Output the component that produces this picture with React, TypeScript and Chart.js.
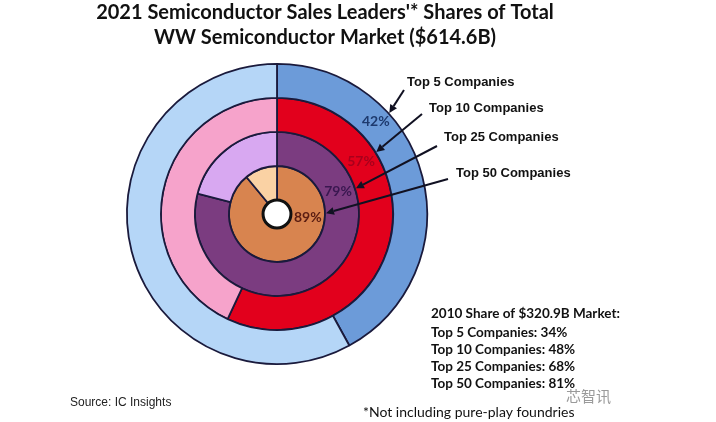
import React, { useEffect, useRef } from "react";
import { Chart, registerables } from "chart.js";

Chart.register(...registerables);

const titleLines = ["2021 Semiconductor Sales Leaders'* Shares of Total", "WW Semiconductor Market ($614.6B)"];
const companies = ["Top 5 Companies", "Top 10 Companies", "Top 25 Companies", "Top 50 Companies"];
const share2021 = [42, 57, 79, 89];
const share2010 = [34, 48, 68, 81];
const header2010 = "2010 Share of $320.9B Market:";
const footnote = "*Not including pure-play foundries";
const sourceText = "Source: IC Insights";
const watermark = "芯智讯";

const mainColors = ["#6c9bd9", "#e2001c", "#7b3c80", "#d8844f"];
const restColors = ["#b5d6f7", "#f6a3cb", "#d8a8f1", "#fad2a4"];
const pctColors = ["#1e3a6e", "#a8001c", "#3a1750", "#5a1d12"];
// angle (deg from top, clockwise) for percentage labels and arrow tips
const pctAngles = [47, 58, 70, 96];
const arrowAngles = [48, 58, 72, 89];
const labelPos = [
  [407, 82],
  [429, 108],
  [444, 137],
  [456, 173],
];
const arrowTails = [
  [404, 90],
  [422, 114],
  [437, 146],
  [448, 179],
];

const overlay = {
  id: "overlay",
  afterDraw(chart: any) {
    const ctx = chart.ctx as CanvasRenderingContext2D;
    ctx.save();
    const metas = companies.map((_, i) => chart.getDatasetMeta(i).data[0] as any);
    const toXY = (arc: any, deg: number, r: number) => {
      const a = ((deg - 90) * Math.PI) / 180;
      return [arc.x + Math.cos(a) * r, arc.y + Math.sin(a) * r];
    };
    // center hole ring
    const inner = metas[3];
    ctx.beginPath();
    ctx.arc(inner.x, inner.y, inner.innerRadius, 0, Math.PI * 2);
    ctx.fillStyle = "#ffffff";
    ctx.fill();
    ctx.lineWidth = 3;
    ctx.strokeStyle = "#111111";
    ctx.stroke();

    // percentage labels
    ctx.textAlign = "center";
    ctx.textBaseline = "middle";
    ctx.font = "bold 14px Lato, sans-serif";
    share2021.forEach((v, i) => {
      const arc = metas[i];
      const r = (arc.innerRadius + arc.outerRadius) / 2 + (i === 0 ? 2 : 0);
      const [x, y] = toXY(arc, pctAngles[i], r);
      ctx.fillStyle = pctColors[i];
      ctx.fillText(v + "%", x, y);
    });

    // arrows
    ctx.strokeStyle = "#111122";
    ctx.fillStyle = "#111122";
    ctx.lineWidth = 2;
    companies.forEach((_, i) => {
      const arc = metas[i];
      const [tx, ty] = toXY(arc, arrowAngles[i], arc.outerRadius + 1);
      const [sx, sy] = arrowTails[i];
      const ang = Math.atan2(ty - sy, tx - sx);
      const hl = 8;
      const bx = tx - Math.cos(ang) * hl;
      const by = ty - Math.sin(ang) * hl;
      ctx.beginPath();
      ctx.moveTo(sx, sy);
      ctx.lineTo(bx, by);
      ctx.stroke();
      ctx.beginPath();
      ctx.moveTo(tx, ty);
      ctx.lineTo(bx + Math.cos(ang + Math.PI / 2) * 4, by + Math.sin(ang + Math.PI / 2) * 4);
      ctx.lineTo(bx + Math.cos(ang - Math.PI / 2) * 4, by + Math.sin(ang - Math.PI / 2) * 4);
      ctx.closePath();
      ctx.fill();
    });

    // company labels
    ctx.textAlign = "left";
    ctx.fillStyle = "#111111";
    ctx.font = "bold 13px 'Liberation Sans', Arial, sans-serif";
    companies.forEach((c, i) => {
      ctx.fillText(c, labelPos[i][0], labelPos[i][1]);
    });

    // title
    ctx.textAlign = "center";
    ctx.font = "bold 20px Lato, sans-serif";
    ctx.fillText(titleLines[0], 325, 13);
    ctx.fillText(titleLines[1], 325, 38);

    // 2010 block
    ctx.textAlign = "left";
    ctx.font = "bold 13.5px Lato, sans-serif";
    ctx.fillText(header2010, 431, 314);
    companies.forEach((c, i) => {
      ctx.fillText(c + ": " + share2010[i] + "%", 431, 333 + i * 17);
    });

    // footnote
    ctx.font = "14px Lato, sans-serif";
    ctx.fillText(footnote, 363, 412);

    // source
    ctx.font = "12px 'Liberation Sans', Arial, sans-serif";
    ctx.fillStyle = "#222222";
    ctx.fillText(sourceText, 70, 403);

    // watermark
    ctx.font = "15px 'Noto Sans CJK SC', sans-serif";
    ctx.fillStyle = "#9a9a9a";
    ctx.fillText(watermark, 566, 396);
    ctx.restore();
  },
};

export default function App() {
  const ref = useRef<HTMLCanvasElement>(null);
  useEffect(() => {
    if (!ref.current) return;
    const chart = new Chart(ref.current, {
      type: "doughnut",
      data: {
        labels: ["Share", "Rest"],
        datasets: share2021.map((v, i) => ({
          label: companies[i],
          data: [v, 100 - v],
          backgroundColor: [mainColors[i], restColors[i]],
          borderColor: "#1a1a3c",
          borderWidth: 1.8,
        })),
      },
      options: {
        responsive: false,
        animation: false,
        cutout: "9.3%",
        layout: { padding: { left: 126, right: 288, top: 63, bottom: 57 } },
        plugins: {
          legend: { display: false },
          tooltip: { enabled: false },
          title: { display: false },
        },
      },
      plugins: [overlay],
    });
    return () => chart.destroy();
  }, []);
  return (
    <div style={{ position: "absolute", left: 0, top: 0, width: 716, height: 422, background: "#ffffff" }}>
      <canvas ref={ref} width={716} height={422} />
    </div>
  );
}
